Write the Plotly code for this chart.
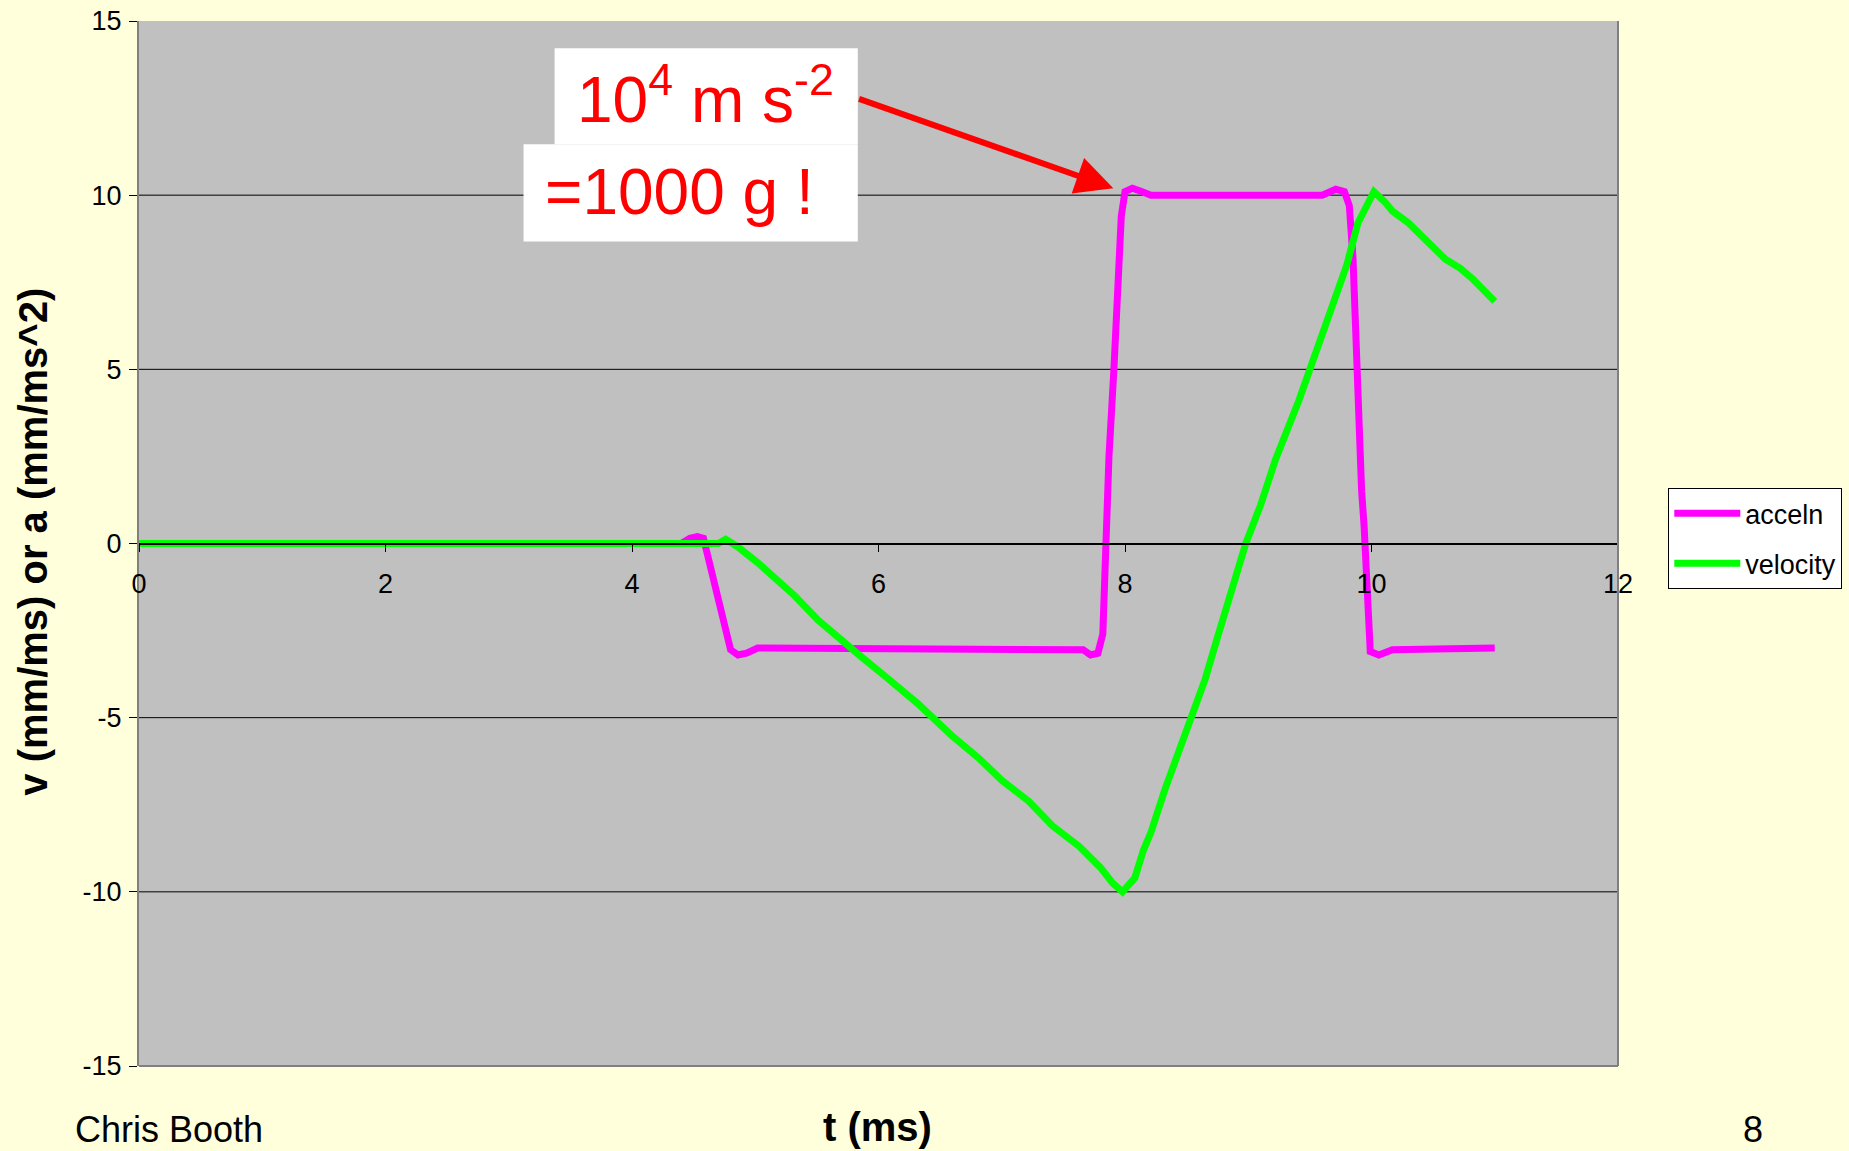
import plotly.graph_objects as go

# ---- data ----
t_acc = [0.0, 4.40, 4.47, 4.53, 4.58, 4.61, 4.65, 4.69, 4.72, 4.76, 4.80, 4.86, 4.93, 5.02,
         7.60, 7.66, 7.72, 7.78, 7.82, 7.84, 7.87, 7.91, 7.94, 7.97, 8.00, 8.06, 8.14, 8.21,
         9.60, 9.66, 9.71, 9.78, 9.82, 9.85, 9.87, 9.89, 9.92, 9.94, 9.97, 9.99, 10.06, 10.17, 11.0]
acceln = [0.0, 0.0, 0.15, 0.2, 0.15, -0.3, -1.0, -1.6, -2.0, -2.5, -3.05, -3.2, -3.15, -3.0,
          -3.0, -3.05, -3.2, -3.15, -2.6, 0.0, 2.5, 5.0, 7.4, 9.4, 10.1, 10.2, 10.1, 10.0,
          10.0, 10.1, 10.17, 10.1, 9.7, 8.2, 6.0, 3.4, 1.5, 0.5, -2.4, -3.1, -3.2, -3.05, -3.0]

t_vel = [0.0, 4.70, 4.76, 4.86, 5.02, 5.19, 5.32, 5.51, 5.67, 5.86, 6.05, 6.19, 6.32, 6.59,
         6.81, 7.00, 7.22, 7.41, 7.63, 7.80, 7.90, 7.98, 8.08, 8.15, 8.21, 8.32, 8.45, 8.55,
         8.65, 8.75, 8.84, 8.98, 9.10, 9.22, 9.41, 9.50, 9.60, 9.70, 9.80, 9.89, 10.02,
         10.11, 10.17, 10.30, 10.44, 10.60, 10.72, 10.82, 11.0]
velocity = [0.0, 0.0, 0.12, -0.1, -0.55, -1.08, -1.5, -2.2, -2.7, -3.25, -3.8, -4.2, -4.6, -5.5,
            -6.15, -6.8, -7.4, -8.1, -8.7, -9.3, -9.75, -10.0, -9.6, -8.8, -8.3, -7.1, -5.8, -4.8,
            -3.9, -2.7, -1.7, 0.0, 1.1, 2.4, 4.1, 5.0, 6.1, 7.1, 8.0, 9.2, 10.1,
            9.8, 9.54, 9.2, 8.73, 8.16, 7.9, 7.6, 6.95]

x_ticks = [0, 2, 4, 6, 8, 10, 12]
x_ticklabels = ["0", "2", "4", "6", "8", "10", "12"]
y_ticks = [-15, -10, -5, 0, 5, 10, 15]
y_ticklabels = ["-15", "-10", "-5", "0", "5", "10", "15"]

FONT = "Arial, Liberation Sans, sans-serif"

fig = go.Figure()
fig.add_trace(go.Scatter(x=t_acc, y=acceln, name="acceln", mode="lines",
                         line=dict(color="#FF00FF", width=7), legendgroup="a"))
fig.add_trace(go.Scatter(x=t_vel, y=velocity, name="velocity", mode="lines",
                         line=dict(color="#00FF00", width=7), legendgroup="v"))

fig.update_layout(
    width=1849, height=1151,
    margin=dict(l=139, r=231, t=21, b=85, autoexpand=False),
    paper_bgcolor="#FFFFDC",
    plot_bgcolor="#C0C0C0",
    font=dict(family=FONT, color="black", size=27),
    xaxis=dict(range=[0, 12], tickvals=x_ticks, ticktext=x_ticklabels, anchor="free", position=0.5,
               showline=True, linecolor="black", linewidth=1.5,
               ticks="outside", ticklen=8, tickcolor="black", tickwidth=1,
               showgrid=False, zeroline=False, tickfont=dict(size=27),
               ticklabelstandoff=8, automargin=False),
    yaxis=dict(range=[-15, 15], tickvals=y_ticks, ticktext=y_ticklabels, showgrid=False,
               zeroline=False, showline=True, linecolor="#808080",
               linewidth=2, ticks="outside", ticklen=8, tickcolor="black", tickwidth=1,
               tickfont=dict(size=27), ticklabelstandoff=2, automargin=False,
               ticklabeloverflow="allow"),
    legend=dict(x=1.034, y=0.553, xanchor="left", yanchor="top", bgcolor="white",
                bordercolor="black", borderwidth=1, font=dict(size=27),
                tracegroupgap=12, itemwidth=66),
    showlegend=True,
)

# horizontal gridlines at the interior y ticks
for v in y_ticks[1:-1]:
    if v != 0:
        fig.add_hline(y=v, line=dict(color="black", width=1), layer="below")

# plot-area frame (right and bottom)
fig.add_shape(type="line", xref="paper", yref="paper", x0=1, x1=1, y0=0, y1=1,
              line=dict(color="#808080", width=2), layer="above")
fig.add_shape(type="line", xref="paper", yref="paper", x0=0, x1=1, y0=0, y1=0,
              line=dict(color="#808080", width=2), layer="above")

# white label boxes
fig.add_shape(type="rect", xref="paper", yref="paper", x0=0.281, x1=0.486, y0=0.882, y1=0.974,
              fillcolor="white", line=dict(width=0), layer="above")
fig.add_shape(type="rect", xref="paper", yref="paper", x0=0.260, x1=0.486, y0=0.789, y1=0.882,
              fillcolor="white", line=dict(width=0), layer="above")

fig.add_annotation(xref="paper", yref="paper", x=0.2945, y=0.929, xanchor="left", yanchor="middle",
                   text="10<sup>4</sup> m s<sup>-2</sup>", showarrow=False,
                   font=dict(size=64, color="#FF0000", family=FONT))
fig.add_annotation(xref="paper", yref="paper", x=0.273, y=0.836, xanchor="left", yanchor="middle",
                   text="=1000 g !", showarrow=False,
                   font=dict(size=64, color="#FF0000", family=FONT))

# arrow
fig.add_annotation(x=7.905, y=10.2, xref="x", yref="y", ax=5.83, ay=12.78, axref="x", ayref="y",
                   text="", showarrow=True, arrowhead=2, arrowsize=1.25, arrowwidth=6,
                   arrowcolor="#FF0000", standoff=0)

# axis titles and footer
fig.add_annotation(xref="paper", yref="paper", x=-0.0715, y=0.502, xanchor="center", yanchor="middle",
                   textangle=-90, text="<b>v (mm/ms) or a (mm/ms^2)</b>", showarrow=False,
                   font=dict(size=40, color="black", family=FONT))
fig.add_annotation(xref="paper", yref="paper", x=0.499, y=-0.058, xanchor="center", yanchor="middle",
                   text="<b>t (ms)</b>", showarrow=False,
                   font=dict(size=40, color="black", family=FONT))
fig.add_annotation(xref="paper", yref="paper", x=-0.0447, y=-0.061, xanchor="left", yanchor="middle",
                   text="Chris Booth", showarrow=False,
                   font=dict(size=36, color="black", family=FONT))
fig.add_annotation(xref="paper", yref="paper", x=1.0914, y=-0.061, xanchor="center", yanchor="middle",
                   text="8", showarrow=False,
                   font=dict(size=36, color="black", family=FONT))

fig.write_html("out.html", config={"displayModeBar": False},
               post_script="document.body.style.margin='0';")
